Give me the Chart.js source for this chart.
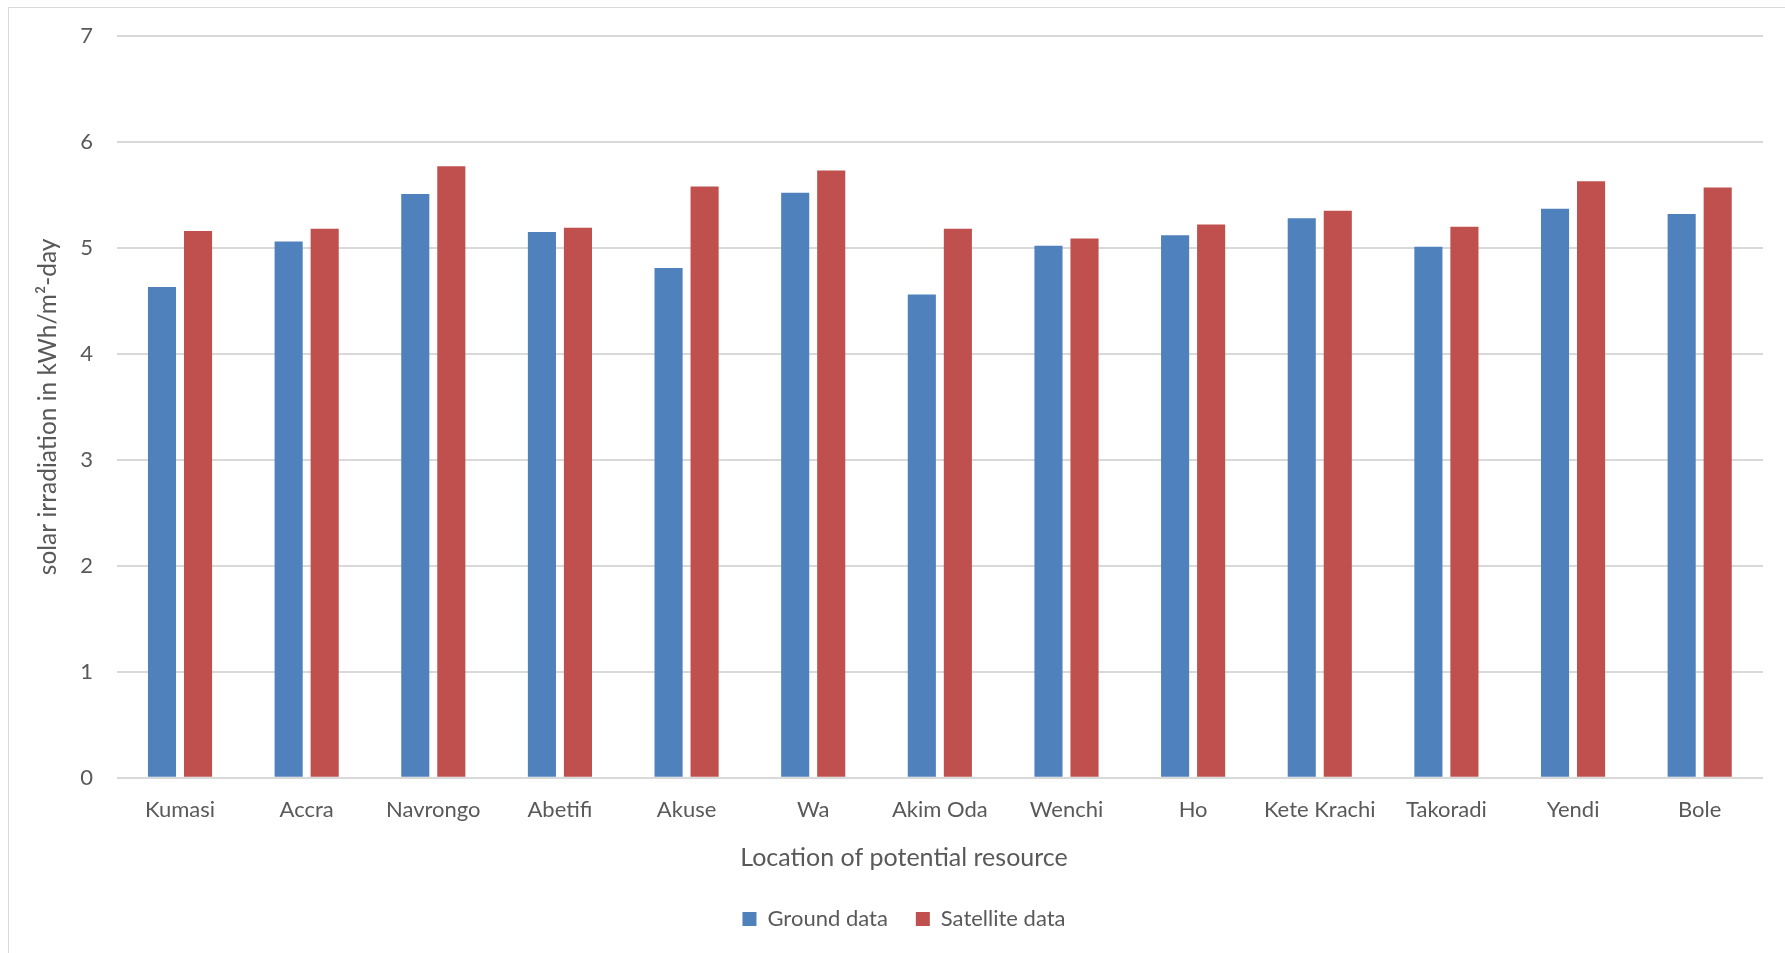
<!DOCTYPE html>
<html>
<head>
<meta charset="utf-8">
<title>Solar irradiation by location</title>
<script src="https://cdn.jsdelivr.net/npm/chart.js@4.4.1/dist/chart.umd.min.js"></script>
<style>
    html, body { margin: 0; padding: 0; background: #fff; overflow: hidden; }
    #cadre {
        position: absolute; left: 8px; top: 7px; width: 2000px; height: 2000px;
        border-left: 1.4px solid #d9d9d9; border-top: 1.4px solid #d9d9d9;
    }
    #zone { position: absolute; left: 8px; top: 7px; width: 1792px; height: 946px; }
</style>
</head>
<body>
<div id="cadre"></div>
<div id="zone"><canvas id="graphique"></canvas></div>
<script>
const locations = ["Kumasi", "Accra", "Navrongo", "Abetifi", "Akuse", "Wa", "Akim Oda", "Wenchi", "Ho", "Kete Krachi", "Takoradi", "Yendi", "Bole"];
const groundData = [4.63, 5.06, 5.51, 5.15, 4.81, 5.52, 4.56, 5.02, 5.12, 5.28, 5.01, 5.37, 5.32];
const satelliteData = [5.16, 5.18, 5.77, 5.19, 5.58, 5.73, 5.18, 5.09, 5.22, 5.35, 5.20, 5.63, 5.57];
const yTicks = [0, 1, 2, 3, 4, 5, 6, 7];

const texte = "#595959";
const famille = "Lato, 'Open Sans', sans-serif";
const police = { family: famille, size: 22 };

const ctx = document.getElementById("graphique").getContext("2d");

new Chart(ctx, {
    type: "bar",
    data: {
        labels: locations,
        datasets: [
            {
                label: "Ground data",
                data: groundData,
                backgroundColor: "#4F81BD",
                categoryPercentage: 0.569,
                barPercentage: 0.78
            },
            {
                label: "Satellite data",
                data: satelliteData,
                backgroundColor: "#C0504D",
                categoryPercentage: 0.569,
                barPercentage: 0.78
            }
        ]
    },
    options: {
        responsive: true,
        maintainAspectRatio: false,
        animation: false,
        devicePixelRatio: 1,
        layout: { padding: { top: 29, right: 0, bottom: 13, left: 0 } },
        plugins: {
            legend: {
                position: "bottom",
                labels: {
                    color: texte,
                    font: police,
                    boxWidth: 14,
                    boxHeight: 14,
                    padding: 28
                }
            },
            // axis caption drawn as a bottom title so it centres on the full width
            title: {
                display: true,
                position: "bottom",
                weight: 500,
                text: "Location of potential resource",
                color: texte,
                font: { family: famille, size: 25, weight: "normal" },
                padding: { top: 17.3, bottom: 7 }
            },
            tooltip: { enabled: false }
        },
        scales: {
            x: {
                grid: { display: false, drawTicks: false },
                border: { display: false },
                ticks: { color: texte, font: police, padding: 19.1, maxRotation: 0 },
                afterFit: scale => { scale.height = 48; }
            },
            y: {
                min: 0,
                max: 7,
                afterBuildTicks: scale => { scale.ticks = yTicks.map(v => ({ value: v })); },
                grid: { color: "#d9d9d9", lineWidth: 2, drawTicks: false },
                border: { display: false },
                ticks: { color: texte, font: police, padding: 23.7 },
                title: {
                    display: true,
                    text: "solar irradiation in kWh/m²-day",
                    color: texte,
                    font: { family: famille, size: 24.5 },
                    padding: { top: 25.3, bottom: 0 }
                },
                afterFit: scale => {
                    scale.width = 108.7;
                    // the tick padding should not push the top of the plot down
                    scale.paddingTop = 13;
                }
            },
            // empty right-hand margin of the plot
            marge: {
                position: "right",
                display: true,
                grid: { display: false, drawTicks: false },
                border: { display: false },
                ticks: { display: false },
                afterFit: scale => { scale.width = 37; }
            }
        }
    }
});
</script>
</body>
</html>
